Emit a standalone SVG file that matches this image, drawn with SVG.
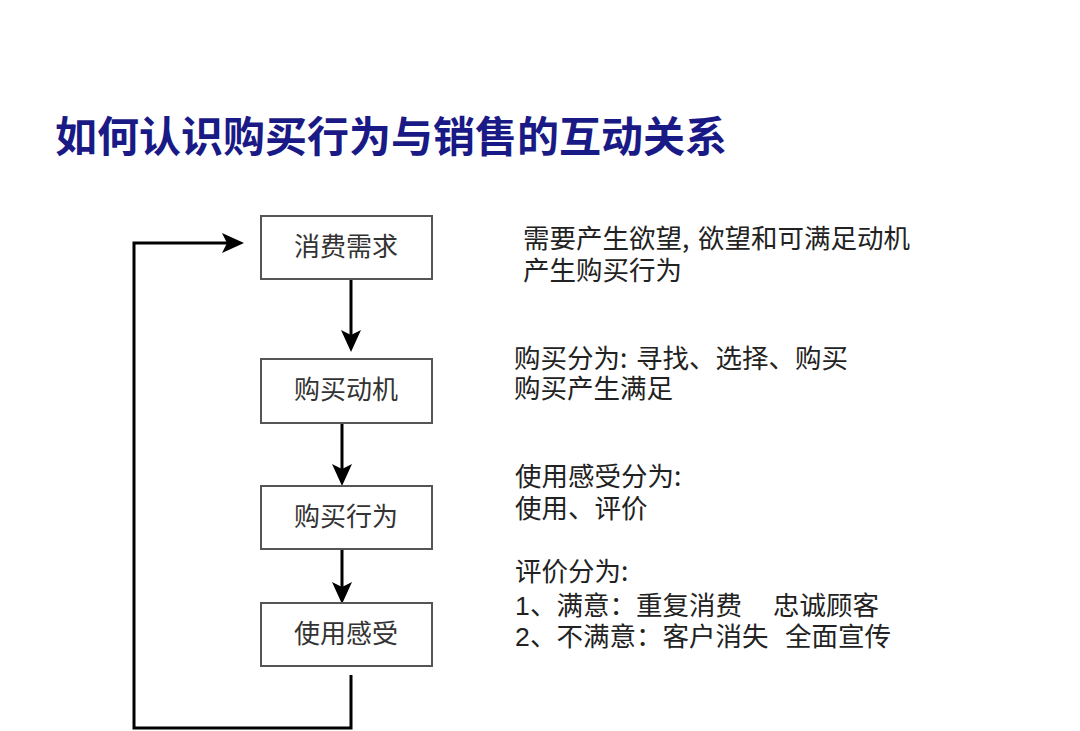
<svg xmlns="http://www.w3.org/2000/svg" width="1080" height="731" viewBox="0 0 1080 731">
<defs>
<style>
.title{font-family:"Noto Sans CJK SC","Liberation Sans",sans-serif;font-size:42px;font-weight:bold;fill:#1a1a86}
.box{fill:#ffffff;stroke:#555555;stroke-width:2}
.lbl{font-family:"Noto Sans CJK SC","Liberation Sans",sans-serif;font-size:26px;fill:#333333;text-anchor:middle}
.txt{font-family:"Noto Sans CJK SC","Liberation Sans",sans-serif;font-size:26.5px;fill:#222222}
.num{font-family:"Liberation Sans",sans-serif}
.con{fill:none;stroke:#000000;stroke-width:3}
</style>
<marker id="ah" markerUnits="userSpaceOnUse" viewBox="0 0 22 20" markerWidth="22" markerHeight="20" refX="14" refY="10" orient="auto">
<path d="M0,0 L22,10 L0,20 L5,10 Z" fill="#000000"/>
</marker>
</defs>
<rect width="1080" height="731" fill="#ffffff"/>
<text class="title" x="55" y="152">如何认识购买行为与销售的互动关系</text>
<g id="connectors">
<line class="con" x1="351" y1="279" x2="351" y2="344" marker-end="url(#ah)"/>
<line class="con" x1="342" y1="423" x2="342" y2="478" marker-end="url(#ah)"/>
<line class="con" x1="342" y1="549" x2="342" y2="596" marker-end="url(#ah)"/>
<path class="con" d="M351,675 V728 H134 V243 H236" marker-end="url(#ah)"/>
</g>
<g id="node1"><rect class="box" x="261" y="216" width="171" height="63"/><text class="lbl" x="346" y="256">消费需求</text></g>
<g id="node2"><rect class="box" x="261" y="359" width="171" height="64"/><text class="lbl" x="346" y="399">购买动机</text></g>
<g id="node3"><rect class="box" x="261" y="486" width="171" height="63"/><text class="lbl" x="346" y="526">购买行为</text></g>
<g id="node4"><rect class="box" x="261" y="603" width="171" height="63"/><text class="lbl" x="346" y="643">使用感受</text></g>
<g id="notes">
<text class="txt"><tspan x="523" y="248">需要产生欲望,</tspan><tspan x="698" y="248">欲望和可满足动机</tspan><tspan x="523" y="280">产生购买行为</tspan></text>
<text class="txt"><tspan x="514" y="368">购买分为:</tspan><tspan x="636" y="368">寻找、选择、购买</tspan><tspan x="514" y="398">购买产生满足</tspan></text>
<text class="txt"><tspan x="515" y="486">使用感受分为:</tspan><tspan x="515" y="518">使用、评价</tspan></text>
<text class="txt"><tspan x="515" y="581">评价分为:</tspan><tspan class="num" x="515" y="615">1</tspan><tspan x="530" y="615">、满意：重复消费</tspan><tspan x="773" y="615">忠诚顾客</tspan><tspan class="num" x="515" y="646">2</tspan><tspan x="530" y="646">、不满意：客户消失</tspan><tspan x="785" y="646">全面宣传</tspan></text>
</g>
</svg>
